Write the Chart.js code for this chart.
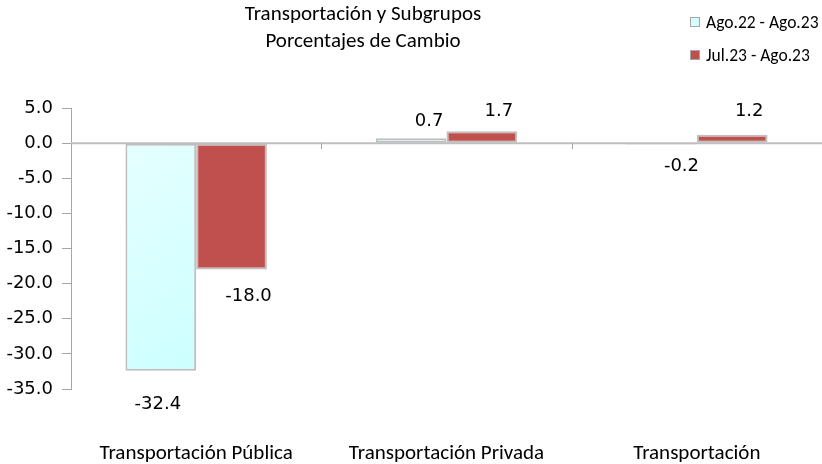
<!DOCTYPE html>
<html>
<head>
<meta charset="utf-8">
<script src="https://cdn.jsdelivr.net/npm/chart.js@4.4.1/dist/chart.umd.min.js"></script>
<style>
  body { margin: 0; background: #fff; }
  #marco { position: relative; width: 822px; height: 464px; }
  #titulo {
    position: absolute; left: 203px; width: 320px; top: 0px;
    text-align: center; font: 21px Carlito, Lato, sans-serif;
    line-height: 27px; color: #000; white-space: nowrap;
  }
  #leyenda { position: absolute; left: 690px; top: 11px; font: 17.5px Carlito, Lato, sans-serif; }
  .item { display: flex; align-items: center; height: 22px; margin-bottom: 11px; white-space: nowrap; }
  .caja { width: 8px; height: 8px; margin-right: 6px; border: 1px solid #a6a6a6; }
</style>
</head>
<body>
<div id="marco">
  <canvas id="grafica" width="822" height="464"></canvas>
  <div id="titulo">Transportación y Subgrupos<br>Porcentajes de Cambio</div>
  <div id="leyenda"></div>
</div>
<script>
// datos
const categorias = ["Transportación Pública", "Transportación Privada", "Transportación"];
const series = ["Ago.22 - Ago.23", "Jul.23 - Ago.23"];
const anual = [-32.4, 0.7, -0.2];
const mensual = [-18.0, 1.7, 1.2];
const ticksY = [5, 0, -5, -10, -15, -20, -25, -30, -35];

const colores = ["#d4ffff", "#c0504d"];
const fuenteNum = { family: "'DejaVu Sans', Verdana, sans-serif", size: 18 };
const fuenteTxt = { family: "Carlito, Lato, sans-serif", size: 21 };

// desplazamiento de cada etiqueta respecto al extremo de su barra
const desplaz = [
  [[-3, 34], [18, -17], [20, 22]],
  [[17, 27], [17, -20], [17, -23]]
];

// leyenda
const ley = document.getElementById("leyenda");
series.forEach((s, i) => {
  const it = document.createElement("div");
  it.className = "item";
  it.innerHTML = `<span class="caja" style="background:${colores[i]}"></span>${s}`;
  ley.appendChild(it);
});

function rellenoCian(ctx) {
  const ca = ctx.chart.chartArea;
  if (!ca) return colores[0];
  const g = ctx.chart.ctx.createLinearGradient(ca.left, ca.top, ca.left + 200, ca.bottom);
  g.addColorStop(0, "#ecffff");
  g.addColorStop(1, "#c6ffff");
  return g;
}

// línea del cero y marcas entre categorías
const lineaCero = {
  id: "lineaCero",
  beforeDatasetsDraw(chart) {
    const { ctx, chartArea, scales } = chart;
    const y0 = scales.y.getPixelForValue(0);
    ctx.save();
    ctx.strokeStyle = "#bfbfbf";
    ctx.lineWidth = 2;
    ctx.beginPath();
    ctx.moveTo(chartArea.left, y0);
    ctx.lineTo(chartArea.right, y0);
    ctx.stroke();
    ctx.lineWidth = 1;
    ctx.strokeStyle = "#a6a6a6";
    for (let i = 1; i < categorias.length; i++) {
      const x = Math.round((scales.x.getPixelForTick(i - 1) + scales.x.getPixelForTick(i)) / 2) + 0.5;
      ctx.beginPath();
      ctx.moveTo(x, y0);
      ctx.lineTo(x, y0 + 6);
      ctx.stroke();
    }
    ctx.restore();
  }
};

// etiquetas de valores
const etiquetas = {
  id: "etiquetas",
  afterDatasetsDraw(chart) {
    const ctx = chart.ctx;
    ctx.save();
    ctx.font = `${fuenteNum.size}px ${fuenteNum.family}`;
    ctx.fillStyle = "#000";
    ctx.textAlign = "center";
    ctx.textBaseline = "middle";
    chart.data.datasets.forEach((ds, d) => {
      chart.getDatasetMeta(d).data.forEach((bar, i) => {
        const [dx, dy] = desplaz[d][i];
        ctx.fillText(ds.data[i].toFixed(1), bar.x + dx, bar.y + dy);
      });
    });
    ctx.restore();
  }
};

new Chart(document.getElementById("grafica"), {
  type: "bar",
  data: {
    labels: categorias,
    datasets: [
      { label: series[0], data: anual, backgroundColor: rellenoCian, borderColor: "#bfbfbf", borderWidth: 2, borderSkipped: false },
      { label: series[1], data: mensual, backgroundColor: colores[1], borderColor: "#bfbfbf", borderWidth: 2, borderSkipped: false }
    ]
  },
  options: {
    responsive: false,
    animation: false,
    devicePixelRatio: 1,
    layout: { padding: { top: 108, left: 0, right: 0, bottom: 0 } },
    datasets: { bar: { categoryPercentage: 0.565, barPercentage: 1 } },
    plugins: { legend: { display: false }, tooltip: { enabled: false }, title: { display: false } },
    scales: {
      x: {
        offset: true,
        grid: { display: false },
        border: { display: false },
        ticks: { font: fuenteTxt, color: "#000", padding: 44, maxRotation: 0, autoSkip: false },
        afterFit: s => { s.height = 75; }
      },
      y: {
        min: -35,
        max: 5,
        afterBuildTicks: s => { s.ticks = ticksY.map(v => ({ value: v })); },
        ticks: { font: fuenteNum, color: "#000", padding: 9, callback: v => Number(v).toFixed(1) },
        grid: { drawOnChartArea: false, tickLength: 9, color: "#a6a6a6" },
        border: { color: "#a6a6a6", width: 1 },
        afterFit: s => { s.width = 71; }
      }
    }
  },
  plugins: [lineaCero, etiquetas]
});
</script>
</body>
</html>
